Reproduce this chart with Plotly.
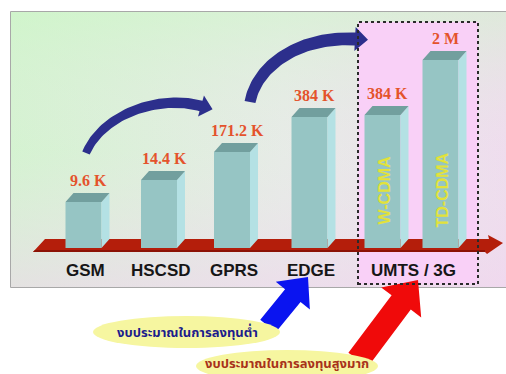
import numpy as np
import plotly.graph_objects as go

# ---------------- data ----------------
categories = ["GSM", "HSCSD", "GPRS", "EDGE", "UMTS / 3G"]
bar_names = ["GSM", "HSCSD", "GPRS", "EDGE", "W-CDMA", "TD-CDMA"]
bar_category = [0, 1, 2, 3, 4, 4]
speed_labels = ["9.6 K", "14.4 K", "171.2 K", "384 K", "384 K", "2 M"]
bar_levels = [46, 68, 96, 131, 133, 188]          # drawn heights (visual scale)
inner_labels = ["", "", "", "", "W-CDMA", "TD-CDMA"]
notes = ["งบประมาณในการลงทุนต่ำ", "งบประมาณในการลงทุนสูงมาก"]

# ---------------- layout constants ----------------
W, H = 506, 374
bar_centers = [83.5, 159, 232, 309.5, 382.5, 440.5]
BAR_W = 36
BASE_PY = 248
DX, DY = 8, 9

FRONT = "#96c5c4"
SIDE = "#b4e1e4"
TOP = "#729f9e"


def Y(py):
    return H - py


def poly_xy(pts):
    xs = [p[0] for p in pts] + [pts[0][0]]
    ys = [Y(p[1]) for p in pts] + [Y(pts[0][1])]
    return xs, ys


def add_poly(fig, pts, color, **kw):
    xs, ys = poly_xy(pts)
    fig.add_trace(go.Scatter(x=xs, y=ys, mode="lines", fill="toself",
                             fillcolor=color, line=dict(width=0),
                             hoverinfo="skip", **kw))


def straight_arrow(tail, tip, shaft_w, head_w, head_len):
    tail = np.array(tail, float); tip = np.array(tip, float)
    d = tip - tail
    u = d / np.linalg.norm(d)
    n = np.array([-u[1], u[0]])
    hb = tip - u * head_len
    pts = [tail + n * shaft_w / 2, hb + n * shaft_w / 2, hb + n * head_w / 2, tip,
           hb - n * head_w / 2, hb - n * shaft_w / 2, tail - n * shaft_w / 2]
    return [tuple(p) for p in pts]


def curved_arrow(p0, c1, c2, p1, w0, w1, head_w, head_len, n=50):
    p0, c1, c2, p1 = [np.array(p, float) for p in (p0, c1, c2, p1)]
    t = np.linspace(0, 1, n)[:, None]
    B = (1 - t) ** 3 * p0 + 3 * (1 - t) ** 2 * t * c1 + 3 * (1 - t) * t ** 2 * c2 + t ** 3 * p1
    dB = 3 * (1 - t) ** 2 * (c1 - p0) + 6 * (1 - t) * t * (c2 - c1) + 3 * t ** 2 * (p1 - c2)
    u = dB / np.linalg.norm(dB, axis=1)[:, None]
    nn = np.stack([-u[:, 1], u[:, 0]], axis=1)
    w = (w0 + (w1 - w0) * t)
    left = B + nn * w / 2
    right = B - nn * w / 2
    ue = u[-1]; ne = nn[-1]
    tip = p1 + ue * head_len
    head = [p1 + ne * head_w / 2, tip, p1 - ne * head_w / 2]
    pts = list(left) + head + list(right[::-1])
    return [tuple(p) for p in pts]


fig = go.Figure()

# panel background (gradient)
panel = [(11, 12), (506, 12), (506, 287), (11, 287)]
xs, ys = poly_xy(panel)
fig.add_trace(go.Scatter(x=xs, y=ys, mode="lines", fill="toself", line=dict(width=0),
                         fillgradient=dict(type="horizontal",
                                           colorscale=[[0, "#d2f4ce"], [0.55, "#e6ece6"], [1, "#efdcee"]]),
                         hoverinfo="skip"))
fig.add_trace(go.Scatter(x=xs, y=ys, mode="lines", fill="toself", line=dict(width=0),
                         fillgradient=dict(type="vertical",
                                           colorscale=[[0, "rgba(240,214,238,0.6)"], [0.5, "rgba(236,230,236,0.1)"],
                                                       [1, "rgba(206,246,200,0.5)"]]),
                         hoverinfo="skip"))
# pink UMTS zone
add_poly(fig, [(358, 22), (478, 22), (478, 284), (358, 284)], "#f9d0f7")

# red floor
floor = [(45, 239), (489, 239), (488, 235), (503, 243), (487, 254), (485, 252), (33, 252)]
add_poly(fig, floor, "#b41e0b")
add_poly(fig, [(35, 250), (485, 250), (485, 252), (33, 252)], "#8c1205")

# bars: front, side and top faces derived from bar_levels
front_x, front_y, side_x, side_y, top_x, top_y = [], [], [], [], [], []
for c, lvl in zip(bar_centers, bar_levels):
    xl, xr = c - BAR_W / 2, c + BAR_W / 2
    tp = BASE_PY - lvl
    fx, fy = poly_xy([(xl, BASE_PY), (xl, tp), (xr, tp), (xr, BASE_PY)])
    front_x += fx + [None]; front_y += fy + [None]
    sx, sy = poly_xy([(xr, BASE_PY), (xr, tp), (xr + DX, tp - DY), (xr + DX, BASE_PY - DY)])
    side_x += sx + [None]; side_y += sy + [None]
    tx, ty = poly_xy([(xl, tp), (xl + DX, tp - DY), (xr + DX, tp - DY), (xr, tp)])
    top_x += tx + [None]; top_y += ty + [None]
for fxs, fys, col in ((front_x, front_y, FRONT), (side_x, side_y, SIDE), (top_x, top_y, TOP)):
    fig.add_trace(go.Scatter(x=fxs, y=fys, mode="lines", fill="toself", fillcolor=col,
                             line=dict(width=0), hoverinfo="skip"))

# curved blue arrows
ARC = "#2c2f8c"
add_poly(fig, curved_arrow((86, 153), (102, 115), (158, 94), (201, 106), 8, 11, 22, 12), ARC)
add_poly(fig, curved_arrow((250, 102), (257, 65), (300, 36), (355, 39), 11, 13, 24, 13), ARC)

# budget arrows
add_poly(fig, straight_arrow((268, 326), (308, 277), 20, 44, 24), "#0a14f0")
add_poly(fig, straight_arrow((358, 360), (418, 280), 24, 50, 28), "#f00a0a")

shapes = []
# panel border
shapes.append(dict(type="rect", xref="x", yref="y", x0=11, x1=520, y0=Y(287), y1=Y(12),
                   line=dict(color="#8c8c8c", width=1.5), fillcolor="rgba(0,0,0,0)", layer="below"))
# dotted UMTS box
shapes.append(dict(type="rect", xref="x", yref="y", x0=358, x1=478, y0=Y(284), y1=Y(22),
                   line=dict(color="#2a2a2a", width=2, dash="dot"), fillcolor="rgba(0,0,0,0)"))
# note ellipses
shapes.append(dict(type="circle", xref="x", yref="y", x0=93, x1=280, y0=Y(348), y1=Y(316),
                   line=dict(width=0), fillcolor="#f6f6a0"))
shapes.append(dict(type="circle", xref="x", yref="y", x0=196, x1=378, y0=Y(382), y1=Y(350),
                   line=dict(width=0), fillcolor="#f6f6a0"))

ann = []
for i, (c, lvl, lab) in enumerate(zip(bar_centers, bar_levels, speed_labels)):
    ann.append(dict(x=c + DX / 2 + 1, y=Y(BASE_PY - lvl - 22), text="<b>%s</b>" % lab,
                    showarrow=False, font=dict(family="Liberation Serif, Times New Roman, serif",
                                               size=16, color="#e4532c")))
    if inner_labels[i]:
        ann.append(dict(x=c + 1, y=Y(190), text="<b>%s</b>" % inner_labels[i], textangle=-90,
                        showarrow=False, font=dict(family="Liberation Sans, Arial, sans-serif",
                                                   size=16, color="#e2e23a")))
for k, cat in enumerate(categories):
    cs = [bar_centers[i] for i in range(len(bar_centers)) if bar_category[i] == k]
    ann.append(dict(x=sum(cs) / len(cs) + 1.5, y=Y(270), text="<b>%s</b>" % cat, showarrow=False,
                    font=dict(family="Liberation Sans, Arial, sans-serif", size=17, color="#161616")))
ann.append(dict(x=187, y=Y(333), text="<b>%s</b>" % notes[0], showarrow=False,
                font=dict(family="Noto Sans Thai, Noto Serif Thai, Noto Sans, DejaVu Sans, sans-serif",
                          size=13, color="#1c1c8c")))
ann.append(dict(x=287, y=Y(364), text="<b>%s</b>" % notes[1], showarrow=False,
                font=dict(family="Noto Sans Thai, Noto Serif Thai, Noto Sans, DejaVu Sans, sans-serif",
                          size=13, color="#a8321a")))

fig.update_layout(width=W, height=H, autosize=False, margin=dict(l=0, r=0, t=0, b=0),
                  paper_bgcolor="white", plot_bgcolor="white", showlegend=False,
                  shapes=shapes, annotations=ann,
                  xaxis=dict(range=[0, W], visible=False, fixedrange=True),
                  yaxis=dict(range=[0, H], visible=False, fixedrange=True))
fig.write_html("out.html")
